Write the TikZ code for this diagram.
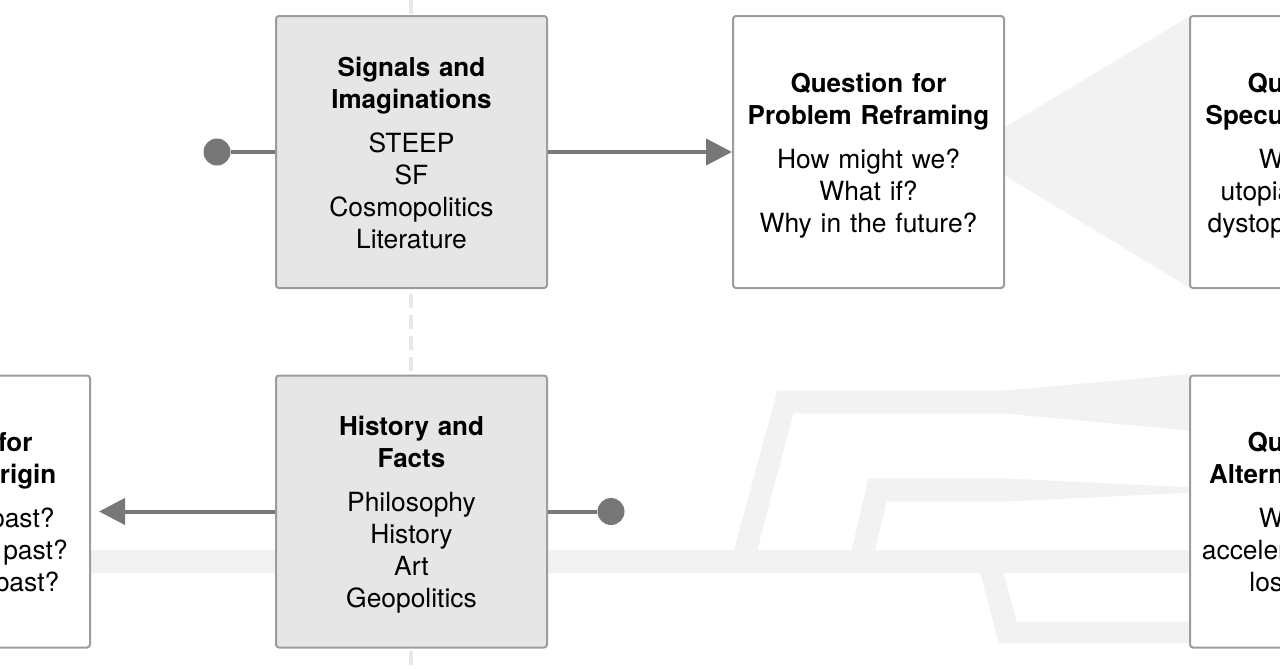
\documentclass[tikz,border=0pt]{standalone}
\usepackage{fontspec}
\setmainfont{TeX Gyre Heros}
\usetikzlibrary{arrows.meta}
\definecolor{boxline}{HTML}{9C9C9C}
\definecolor{boxfill}{HTML}{E6E6E6}
\definecolor{pathfill}{HTML}{F2F2F2}
\definecolor{linkgray}{HTML}{777777}
\definecolor{axisgray}{HTML}{E8E8E8}
\newcommand{\cardtext}[2]{{\fontsize{13}{16}\selectfont\bfseries\rule{0pt}{15.2pt}#1}\\[6pt]#2\strut}

\begin{document}
\begin{tikzpicture}[x=0.5pt, y=-0.5pt,
        card/.style={draw=boxline, line width=1pt, rounded corners=1.5pt, fill=white,
            minimum width=135.5pt, minimum height=136pt, inner sep=0pt,
            text width=132pt, align=center, font=\fontsize{13.2}{16}\selectfont},
        source/.style={card, fill=boxfill},
        pin/.style={circle, fill=linkgray, inner sep=0pt, minimum size=13.5pt},
        link/.style={draw=linkgray, line width=2pt},
        tip/.style={-{Triangle[length=13pt, width=13pt]}},
        flow/.style={fill=pathfill},
        axis/.style={draw=axisgray, line width=2pt, dash pattern=on 7pt off 3.5pt}]
    \useasboundingbox (0,0) rectangle (1280,669);
    \clip (0,0) rectangle (1280,669);
    % faint background paths
    \draw[axis] (411,0) -- (411,669);
    \fill[flow] (1004,128) -- (1190,16) -- (1190,288) -- (1004,175) -- cycle;
    \fill[flow] (90,550) rectangle (1190,573);
    \fill[flow] (734,550) -- (777.3,390.7) -- (1003,390.7) -- (1190,374) -- (1190,430.7)
        -- (1003,413.3) -- (793.3,413.3) -- (757.3,550) -- cycle;
    \fill[flow] (851.7,550) -- (868.3,478.3) -- (1003,478.3) -- (1190,487.3) -- (1190,492.7)
        -- (1003,501.7) -- (886.7,501.7) -- (875,550) -- cycle;
    \fill[flow] (980,572) -- (998.8,643.3) -- (1190,643.3) -- (1190,621.7)
        -- (1016.7,621.7) -- (1003.3,572) -- cycle;
    % cards
    \node[source] (signals) at (411.5,152) {\cardtext{Signals and\\Imaginations}{STEEP\\SF\\Cosmopolitics\\Literature}};
    \node[card] (reframing) at (868.5,152) {\cardtext{Question for\\Problem Reframing}{How might we?\\What if?\\Why in the future?}};
    \node[card] (speculative) at (1325.5,152) {\cardtext{Question for\\Speculative Design}{What kind?\\utopian scenario?\\dystopian scenario?}};
    \node[source] (history) at (411.5,511.5) {\cardtext{History and\\Facts}{Philosophy\\History\\Art\\Geopolitics}};
    \node[card] (origin) at (-45.5,511.5) {\cardtext{Question for\\Historical Origin}{Why in the past?\\How was the past?\\What in the past?}};
    \node[card] (alternative) at (1325.5,511.5) {\cardtext{Question for\\Alternative History}{What else?\\accelerated present?\\lost present?}};
    \node[pin] (start) at (217,152) {};
    \node[pin] (root) at (611,511.5) {};
    % links
    \draw[link] (start) -- (signals);
    \draw[link, tip] (signals) -- (reframing);
    \draw[link] (history) -- (root);
    \draw[link, tip, shorten >=4pt] (history) -- (origin);
\end{tikzpicture}
\end{document}
